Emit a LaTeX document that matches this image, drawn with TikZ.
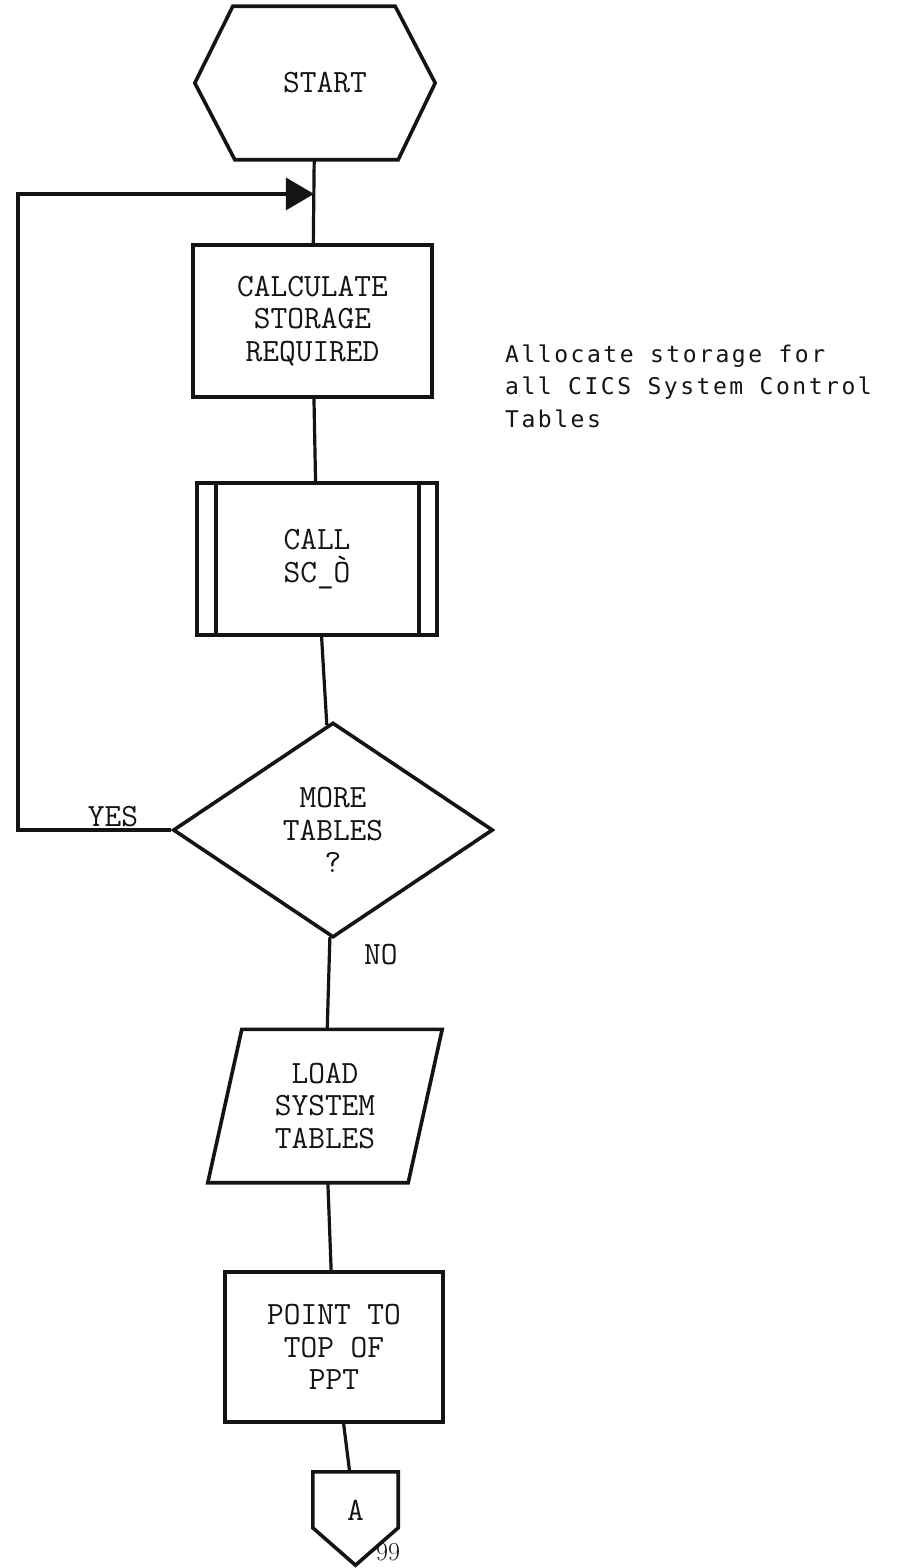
\documentclass[tikz,border=0pt]{standalone}
\usepackage{fontspec}
\usepackage{tikz}
\usetikzlibrary{arrows.meta,positioning,calc,shapes.geometric}
\newfontfamily\notefont[LetterSpace=11]{DejaVu Sans Mono}
\definecolor{inkFlow}{RGB}{20, 20, 20}
\tikzset{
    flowtext/.style={font=\fontsize{32.5pt}{32.5pt}\selectfont\ttfamily, text=inkFlow, align=center, inner sep=0pt},
    boxedge/.style={draw=inkFlow, line width=3.6pt, line join=miter},
    flowlink/.style={draw=inkFlow, line width=3.2pt},
}

\begin{document}
\begin{tikzpicture}[x=1pt, y=-1pt]
                \useasboundingbox (0,0) rectangle (911,1568);
                \fill[white] (0,0) rectangle (911,1568);

                \node[flowtext, minimum width=240pt, minimum height=153pt] (start) at (315,83) {\hspace*{20pt}START};
                \draw[boxedge] (start.west) -- ([xshift=38pt]start.north west) -- ([xshift=-40pt]start.north east)
                    -- (start.east) -- ([xshift=-37pt]start.south east) -- ([xshift=40pt]start.south west) -- cycle;

                \node[flowtext, boxedge, minimum width=239pt, minimum height=152pt] (calc) at (312.5,321) {CALCULATE\\STORAGE\\REQUIRED};

                \node[flowtext, boxedge, minimum width=240pt, minimum height=152pt] (call) at (317,559) {CALL\\SC\_Ò};
                \draw[boxedge] ([xshift=21pt]call.north west) -- ([xshift=21pt]call.south west)
                    ([xshift=-20pt]call.north east) -- ([xshift=-20pt]call.south east);

                \node[flowtext, boxedge, diamond, minimum width=320pt, minimum height=215pt] (more) at (333,830) {MORE\\TABLES\\?};

                \node[flowtext, minimum width=200pt, minimum height=153pt] (load) at (325,1106) {LOAD\\SYSTEM\\TABLES};
                \draw[boxedge] ([xshift=17pt]load.north west) -- ([xshift=17pt]load.north east)
                    -- ([xshift=-17pt]load.south east) -- ([xshift=-17pt]load.south west) -- cycle;

                \node[flowtext, boxedge, minimum width=218pt, minimum height=150pt] (point) at (334,1347) {POINT TO\\TOP OF\\PPT};

                \node[font=\fontsize{26pt}{28pt}\selectfont\rmfamily, text=inkFlow, inner sep=0pt] (pagenum) at (388,1552) {99};
                \node[flowtext, minimum width=85pt, minimum height=93pt] (conn) at (355.5,1518.5) {};
                \draw[boxedge, fill=white] (conn.north west) -- (conn.north east) -- ($(conn.north east)+(0,56)$)
                    -- (conn.south) -- ($(conn.north west)+(0,56)$) -- cycle;
                \node[flowtext] (connlabel) at ($(conn)+(0,-8)$) {A};

                \node[font=\fontsize{23pt}{32.5pt}\selectfont\notefont, text=inkFlow, align=left, anchor=west, inner sep=0pt] (note) at (505,386)
                    {Allocate storage for\\all CICS System Control\\Tables};

                \node[flowtext] (yes) at (113,817) {YES};
                \node[flowtext, anchor=west] (no) at (364,955) {NO};

                \coordinate (merge) at ($(start.south)!0.41!(calc.north)$);
                \coordinate (loopleft) at (18,830);

                \draw[flowlink] (start) -- (calc);
                \draw[flowlink] (calc) -- (call);
                \draw[flowlink] (call) -- (more);
                \draw[flowlink] (more) -- (load);
                \draw[flowlink] (load) -- (point);
                \draw[flowlink] (point) -- (conn);
                \draw[flowlink, line join=miter, -{Triangle[length=28pt, width=32pt]}] (more.west) -- (more.west -| loopleft) |- (merge);
            \end{tikzpicture}
\end{document}
